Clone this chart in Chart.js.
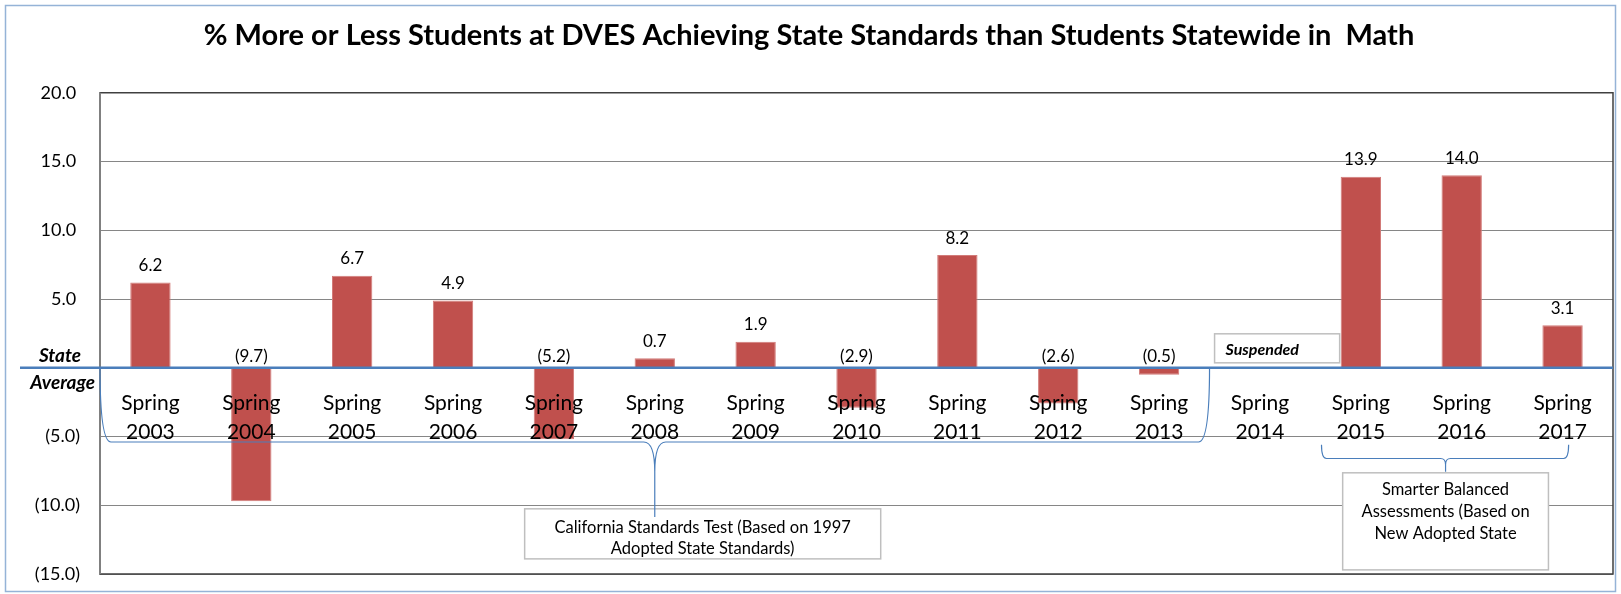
<!DOCTYPE html>
<html>
<head>
<meta charset="utf-8">
<script src="https://cdn.jsdelivr.net/npm/chart.js@4.4.1/dist/chart.umd.min.js"></script>
<style>
  body { margin: 0; background: #fff; }
  canvas { display: block; }
</style>
</head>
<body>
<canvas id="myChart" width="1621" height="594"></canvas>
<script>
const chartTitle = "% More or Less Students at DVES Achieving State Standards than Students Statewide in  Math";
const years = ["2003", "2004", "2005", "2006", "2007", "2008", "2009", "2010",
  "2011", "2012", "2013", "2014", "2015", "2016", "2017"];
const diffs = [6.2, -9.7, 6.7, 4.9, -5.2, 0.7, 1.9, -2.9, 8.2, -2.6, -0.5, null, 13.9, 14.0, 3.1];
const zeroLabel = ["State", "Average"];
const cstNote = ["California Standards Test (Based on 1997", "Adopted State Standards)"];
const sbaNote = ["Smarter Balanced", "Assessments (Based on", "New Adopted State"];
const suspendedNote = "Suspended";

const FONT = "Lato";
const barRed = "#C0504D";
const blue = "#4A7EBB";

function fmt(v) {
  if (v < 0) return "(" + Math.abs(v).toFixed(1) + ")";
  return v.toFixed(1);
}

// curly brace: ends rise up to yEnd, middle point drops down to tipY
function brace(ctx, xa, xb, yEnd, yH, tipX, tipY, rx, ry) {
  ctx.beginPath();
  ctx.moveTo(xa, yEnd);
  ctx.quadraticCurveTo(xa, yH, xa + rx, yH);
  ctx.lineTo(tipX - rx, yH);
  ctx.quadraticCurveTo(tipX, yH, tipX, yH + ry);
  ctx.lineTo(tipX, tipY);
  ctx.moveTo(tipX, yH + ry);
  ctx.quadraticCurveTo(tipX, yH, tipX + rx, yH);
  ctx.lineTo(xb - rx, yH);
  ctx.quadraticCurveTo(xb, yH, xb, yEnd);
  ctx.stroke();
}

function noteBox(ctx, x0, y0, x1, y1, lines, font, lineH, firstY, align) {
  ctx.fillStyle = "#fff";
  ctx.fillRect(x0, y0, x1 - x0, y1 - y0);
  ctx.strokeStyle = "#BFBFBF";
  ctx.lineWidth = 1.5;
  ctx.strokeRect(x0, y0, x1 - x0, y1 - y0);
  ctx.fillStyle = "#000";
  ctx.font = font;
  ctx.textBaseline = "middle";
  ctx.textAlign = align || "center";
  lines.forEach((t, i) => {
    const tx = align === "left" ? x0 + 11 : (x0 + x1) / 2;
    ctx.fillText(t, tx, firstY + i * lineH);
  });
}

const decorations = {
  id: "decorations",
  beforeDraw(chart) {
    const ctx = chart.ctx;
    ctx.save();
    ctx.fillStyle = "#fff";
    ctx.fillRect(0, 0, chart.width, chart.height);
    ctx.strokeStyle = "#95B3D7";
    ctx.lineWidth = 1.5;
    ctx.strokeRect(5.5, 5.5, chart.width - 11, chart.height - 8);
    ctx.restore();
  },
  afterDatasetsDraw(chart) {
    const ctx = chart.ctx;
    const y = chart.scales.y;
    const y0 = y.getPixelForValue(0);
    const meta = chart.getDatasetMeta(0);
    ctx.save();
    ctx.font = "17px " + FONT;
    ctx.fillStyle = "#000";
    ctx.textAlign = "center";
    ctx.textBaseline = "middle";
    meta.data.forEach((bar, i) => {
      const v = diffs[i];
      if (v === null) return;
      const ty = v >= 0 ? bar.y - 17 : y0 - 11;
      ctx.fillText(fmt(v), bar.x, ty);
    });
    ctx.restore();
  },
  afterDraw(chart) {
    const ctx = chart.ctx;
    const x = chart.scales.x;
    const y = chart.scales.y;
    const a = chart.chartArea;
    const px = i => x.getPixelForValue(i);
    const py = v => y.getPixelForValue(v);
    ctx.save();
    // plot frame
    ctx.strokeStyle = "#404040";
    ctx.lineWidth = 1.5;
    ctx.beginPath();
    ctx.moveTo(a.left, a.top);
    ctx.lineTo(a.right, a.top);
    ctx.lineTo(a.right, a.bottom);
    ctx.lineTo(a.left, a.bottom);
    ctx.stroke();
    ctx.strokeStyle = "#808080";
    ctx.lineWidth = 2;
    ctx.beginPath();
    ctx.moveTo(a.left, a.top);
    ctx.lineTo(a.left, a.bottom);
    ctx.stroke();
    // state average line
    ctx.strokeStyle = blue;
    ctx.lineWidth = 2.5;
    ctx.beginPath();
    ctx.moveTo(20, py(0));
    ctx.lineTo(a.right, py(0));
    ctx.stroke();
    // label of the zero line
    ctx.fillStyle = "#000";
    ctx.font = "italic bold 19px " + FONT;
    ctx.textAlign = "right";
    ctx.textBaseline = "middle";
    ctx.fillText(zeroLabel[0], a.left - 19, py(0) - 12);
    ctx.fillText(zeroLabel[1], a.left - 5, py(0) + 15);

    // notes
    noteBox(ctx, px(3.71), py(-10.26), px(7.24), py(-13.9), cstNote,
      "16.5px " + FONT, 21, py(-11.6), "center");
    noteBox(ctx, px(11.82), py(-7.64), px(13.86), py(-14.7), sbaNote,
      "16.5px " + FONT, 22, py(-8.9), "center");
    noteBox(ctx, px(10.55), py(2.47), px(11.79), py(0.36), [suspendedNote],
      "italic bold 16px " + FONT, 0, py(1.32), "left");

    ctx.strokeStyle = blue;
    ctx.lineWidth = 1.2;
    brace(ctx, px(-0.5), px(10.5), py(0), py(-5.4), px(5), py(-10.85), 11, 30);
    brace(ctx, px(11.61), px(14.06), py(-5.6), py(-6.6), px(12.84), py(-7.57), 5, 6);
    ctx.restore();
  }
};

new Chart(document.getElementById("myChart"), {
  type: "bar",
  data: {
    labels: years.map(yr => ["Spring", yr]),
    datasets: [{
      data: diffs,
      backgroundColor: barRed,
      borderColor: "#D27B79",
      borderWidth: 1,
      categoryPercentage: 1,
      barPercentage: 0.4
    }]
  },
  options: {
    responsive: false,
    animation: false,
    layout: { padding: { left: 5, right: 8, top: 0, bottom: 20 } },
    plugins: {
      legend: { display: false },
      tooltip: { enabled: false },
      title: {
        display: true,
        text: chartTitle,
        color: "#000",
        font: { family: FONT, size: 29, weight: "bold", lineHeight: 1.2 },
        padding: { top: 18, bottom: 40 }
      }
    },
    scales: {
      x: {
        position: { y: 0 },
        grid: { display: false },
        border: { display: false },
        ticks: {
          z: 1,
          color: "#000",
          font: { family: FONT, size: 21, lineHeight: 1.38 },
          padding: 13,
          maxRotation: 0,
          autoSkip: false
        }
      },
      y: {
        min: -15,
        max: 20,
        afterFit(scale) {
          scale.width = 95;
          scale.paddingTop = 0;
          scale.paddingBottom = 0;
        },
        grid: { color: "#868686", lineWidth: 1, drawTicks: false },
        border: { display: true, color: "#808080", width: 2 },
        ticks: {
          stepSize: 5,
          padding: 20,
          color: "#000",
          font: { family: FONT, size: 18 },
          callback: v => v === 0 ? "" : (v > 0 ? fmt(v) + "\u2008" : fmt(v))
        }
      }
    }
  },
  plugins: [decorations]
});
</script>
</body>
</html>
